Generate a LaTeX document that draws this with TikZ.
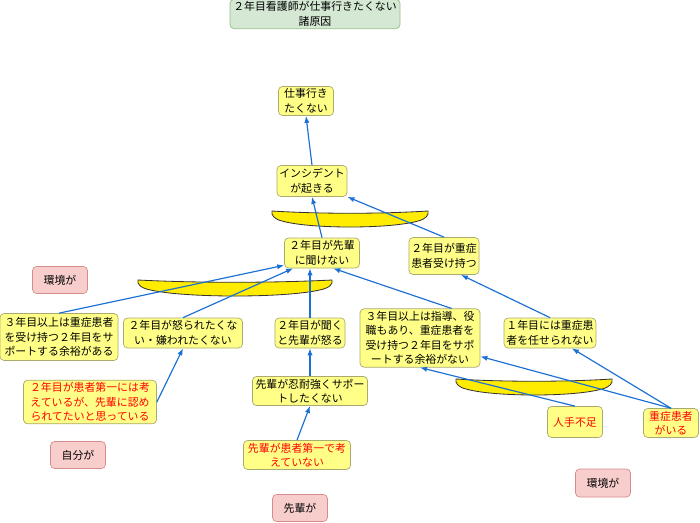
\documentclass[tikz,border=0pt]{standalone}
\usepackage{fontspec}
\setmainfont{Noto Sans CJK JP}
\usetikzlibrary{arrows.meta}

\definecolor{linkblue}{RGB}{28,112,212}
\definecolor{boxfill}{RGB}{255,255,136}
\definecolor{boxline}{RGB}{170,170,110}
\definecolor{pinkfill}{RGB}{248,206,204}
\definecolor{pinkline}{RGB}{214,140,140}
\definecolor{titlefill}{RGB}{213,232,212}
\definecolor{titleline}{RGB}{150,190,130}
\definecolor{bananafill}{RGB}{255,236,0}

\begin{document}
\begin{tikzpicture}[x=0.03cm, y=-0.03cm,
	every node/.style={font=\fontsize{9.3}{12.4}\selectfont},
	sz/.style 2 args={minimum width={#1*0.03cm}, minimum height={#2*0.03cm}},
	box/.style={draw=boxline, fill=boxfill, rounded corners=3.5pt, align=center, inner sep=2pt, line width=0.6pt},
	redbox/.style={box, text=red},
	tag/.style={draw=pinkline, fill=pinkfill, rounded corners=3.5pt, align=center, inner sep=2pt, line width=0.6pt, sz={55}{27}},
	link/.style={draw=linkblue, line width=1pt, -{Latex[length=6pt, width=4.5pt]}},
	andbar/.pic={
		\draw[black!80, line width=0.7pt, fill=bananafill]
			(-78,-7) .. controls (-30,-4) and (30,-4) .. (78,-7)
			.. controls (79,-3) and (76,1) .. (68,3)
			.. controls (40,11) and (-40,11) .. (-68,3)
			.. controls (-76,1) and (-79,-3) .. (-78,-7) -- cycle;
	}]
	\useasboundingbox (0,0) rectangle (700,522);

	% title
	\node[draw=titleline, fill=titlefill, rounded corners=3.5pt, align=center, inner sep=2pt, line width=0.6pt, sz={170}{28}] (title) at (315,14) {２年目看護師が仕事行きたくない\\諸原因};

	% AND bars
	\pic at (350,218) {andbar};
	\pic[xscale=1.244] at (235,287) {andbar};
	\pic at (534,386) {andbar};

	% causes
	\node[box, sz={55}{28}] (work) at (306,101) {仕事行き\\たくない};
	\node[box, sz={68}{31}] (incident) at (312,181) {インシデント\\が起きる};
	\node[box, sz={75}{30}] (cannot) at (322,253) {２年目が先輩\\に聞けない};
	\node[box, sz={70}{37}] (heavy) at (444,256) {２年目が重症\\患者受け持つ};
	\node[box, sz={118}{47}] (spare) at (59,337) {３年目以上は重症患者\\を受け持つ２年目をサ\\ポートする余裕がある};
	\node[box, sz={119}{30}] (fear) at (183,333) {２年目が怒られたくな\\い・嫌われたくない};
	\node[box, sz={70}{30}] (angry) at (310,333) {２年目が聞く\\と先輩が怒る};
	\node[box, sz={120}{51}] (busy) at (420,338) {３年目以上は指導、役\\職もあり、重症患者を\\受け持つ２年目をサポ\\ートする余裕がない};
	\node[box, sz={90}{30}] (first) at (550,333) {１年目には重症患\\者を任せられない};
	\node[redbox, sz={133}{41}] (approve) at (90,402) {２年目が患者第一には考\\えているが、先輩に認め\\られてたいと思っている};
	\node[box, sz={115}{27}] (patience) at (310,391) {先輩が忍耐強くサポー\\トしたくない};
	\node[redbox, sz={55}{31}] (short) at (575,422) {人手不足};
	\node[redbox, sz={55}{27}] (severe) at (671,423) {重症患者\\がいる};
	\node[redbox, sz={107}{27}] (nofirst) at (297,455) {先輩が患者第一で考\\えていない};

	% tags
	\node[tag] (envA) at (60,280) {環境が};
	\node[tag] (self) at (78,455) {自分が};
	\node[tag, sz={55}{28}] (envB) at (603,483) {環境が};
	\node[tag] (senpai) at (300,508) {先輩が};

	% links
	\draw[link] (incident.north) -- (work.south);
	\draw[link] (cannot.north) -- (incident.south);
	\draw[link] (heavy.north) -- (incident.south east);
	\draw[link] (spare.north) -- (cannot.198);
	\draw[link] (fear.north) -- (cannot.208);
	\draw[link] (angry.north) -- (angry.north |- cannot.south);
	\draw[link] (busy.43) -- (cannot.-54);
	\draw[link] (first.north) -- (heavy.-48);
	\draw[link] (approve.east) -- (fear.south);
	\draw[link] (patience.north) -- (angry.south);
	\draw[link] (nofirst.north) -- (patience.south);
	\draw[link] (short.north) -- (busy.south);
	\draw[link] (severe.north) -- (busy.-17);
	\draw[link] (severe.north) -- (first.-35);
\end{tikzpicture}
\end{document}
